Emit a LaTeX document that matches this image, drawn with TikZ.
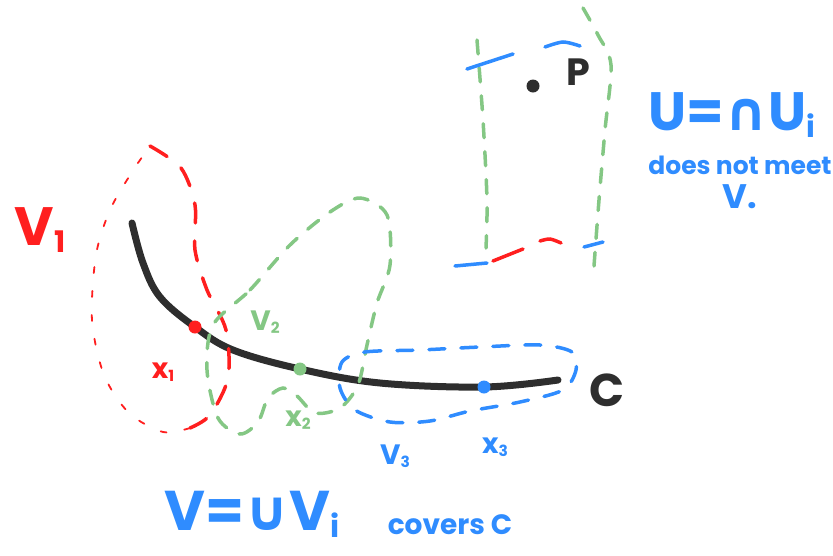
\documentclass[tikz,border=0pt]{standalone}
\usepackage{fontspec}
\setmainfont{Poppins}
\newfontfamily\symfont{DejaVu Sans}
\usetikzlibrary{positioning}
\definecolor{penred}{HTML}{FF1F1F}
\definecolor{pengreen}{HTML}{84C784}
\definecolor{penblue}{HTML}{2F8CFF}
\definecolor{penblack}{HTML}{2E2E2E}
\newcommand{\lowsub}[1]{\raisebox{-0.12em}{\scalebox{0.55}{#1}}}

\begin{document}
\begin{tikzpicture}[
    x=1pt,y=-1pt,
    curvepen/.style={line width=7pt, penblack, line cap=round},
    redloop/.style={line width=3.5pt, penred, line cap=round, dash pattern=on 20pt off 18pt},
    redthin/.style={line width=1.8pt, penred, line cap=round, dash pattern=on 6pt off 18pt},
    greenloop/.style={line width=3.5pt, pengreen, line cap=round, dash pattern=on 14pt off 14pt},
    blueloop/.style={line width=3.5pt, penblue, line cap=round, dash pattern=on 16pt off 16pt},
    stroke/.style={line width=3.5pt, line cap=round},
    ptdot/.style={circle, fill, inner sep=0pt, minimum size=13pt},
    lbl/.style={inner sep=0pt, font=\bfseries\fontsize{28}{28}\selectfont},
    biglbl/.style={inner sep=0pt, font=\bfseries\fontsize{54}{54}\selectfont},
    smalllbl/.style={inner sep=0pt, font=\bfseries\fontsize{25}{34}\selectfont}
]
    \useasboundingbox (0,0) rectangle (833,555);

    % --- the curve C ---
    \coordinate (x1pt) at (195,327);
    \coordinate (x2pt) at (300,369);
    \coordinate (x3pt) at (484,387);
    \draw[curvepen] plot[smooth, tension=0.6] coordinates
        {(132,223) (143,263) (160,297) (x1pt) (233,350) (x2pt) (380,383) (x3pt) (558,380)};
    \node[lbl, penblack, font=\bfseries\fontsize{46}{46}\selectfont] (clbl) at (607,390) {C};

    % --- V_1 ---
    \draw[redloop] plot[smooth] coordinates
        {(150,146) (181,168) (195,205) (195,250) (207,290) (226,330) (228,378) (210,415) (190,428)};
    \draw[redthin] plot[smooth] coordinates
        {(190,428) (163,432) (129,413) (104,375) (92,320) (96,255) (110,210) (132,172) (150,146)};
    \node[ptdot, penred] (x1dot) at (x1pt) {};
    \node[biglbl, penred] (v1lbl) at (40,230) {V\lowsub{1}};
    \node[lbl, penred] (x1lbl) at (163,372) {x\lowsub{1}};

    % --- V_2 ---
    \draw[greenloop] plot[smooth cycle] coordinates
        {(213,325) (250,290) (290,245) (330,212) (360,198) (387,215) (390,265) (377,303)
         (367,345) (358,385) (340,408) (315,413) (297,396) (283,388) (268,398) (258,422)
         (240,434) (218,418) (207,370)};
    \node[ptdot, pengreen] (x2dot) at (x2pt) {};
    \node[lbl, pengreen] (v2lbl) at (265,322) {V\lowsub{2}};
    \node[lbl, pengreen] (x2lbl) at (298,420) {x\lowsub{2}};

    % --- V_3 ---
    \draw[blueloop] plot[smooth cycle] coordinates
        {(342,362) (365,352) (420,350) (480,347) (540,345) (572,352) (576,370) (563,390)
         (520,402) (470,411) (430,421) (390,422) (355,410) (340,388)};
    \node[ptdot, penblue] (x3dot) at (x3pt) {};
    \node[lbl, penblue] (v3lbl) at (395,456) {V\lowsub{3}};
    \node[lbl, penblue] (x3lbl) at (495,447) {x\lowsub{3}};

    % --- U around p ---
    \draw[greenloop] plot[smooth] coordinates {(477,40) (483,120) (487,200) (486,248)};
    \draw[greenloop] plot[smooth] coordinates {(583,8) (598,35) (611,65) (605,130) (599,200) (594,266)};
    \draw[stroke, penblue] (467,69) -- (513,54);
    \draw[stroke, penblue] plot[smooth] coordinates {(545,47) (563,42) (580,46)};
    \draw[stroke, penblue] (455,266) -- (487,263);
    \draw[stroke, penred] (493,261) -- (523,249);
    \draw[stroke, penred] plot[smooth] coordinates {(540,241) (550,239) (561,243)};
    \draw[stroke, penblue] (584,247) -- (603,242);
    \node[ptdot, penblack] (pdot) at (533,86) {};
    \node[lbl, penblack, font=\bfseries\fontsize{38}{38}\selectfont] (plbl) at (578,72) {P};

    % --- notes ---
    \node[biglbl, penblue] (unote) at (732,115) {U={\symfont ∩}U\lowsub{i}};
    \node[smalllbl, penblue, align=center] (umeet) at (740,182) {does not meet\\{\fontsize{34}{34}\selectfont V.}};
    \node[biglbl, penblue, font=\bfseries\fontsize{56}{56}\selectfont] (vnote) at (252,514) {V={\symfont ∪}V\lowsub{i}};
    \node[smalllbl, penblue, font=\bfseries\fontsize{28}{28}\selectfont] (vcover) at (450,525) {covers C};
\end{tikzpicture}
\end{document}
